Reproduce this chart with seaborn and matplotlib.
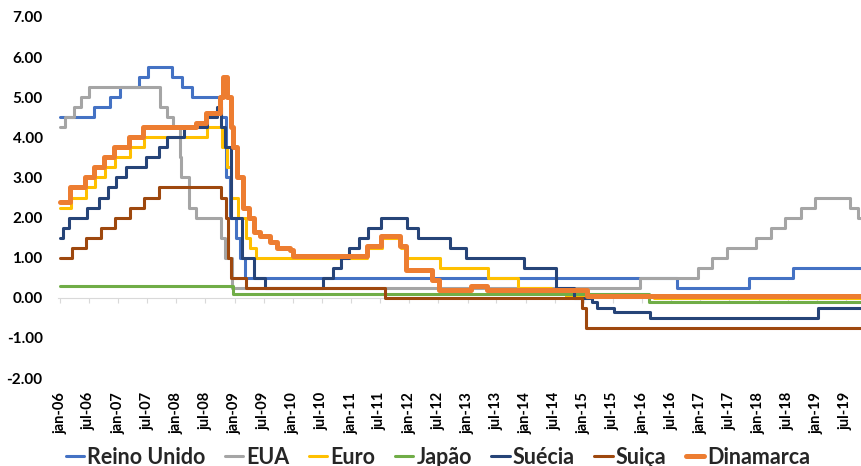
import matplotlib
matplotlib.use("Agg")
import matplotlib.pyplot as plt
import matplotlib.dates as mdates
from matplotlib.lines import Line2D
from matplotlib.ticker import FormatStrFormatter
import pandas as pd
import seaborn as sns

# ---------------- data (policy-rate change points, % a.a.) ----------------
END_DATE = "2019-10-20"

uk_dates = ["2006-01-01", "2006-08-03", "2006-11-09", "2007-01-11", "2007-05-10", "2007-07-05",
            "2007-12-06", "2008-02-07", "2008-04-10", "2008-10-08", "2008-11-06", "2008-12-04",
            "2009-01-08", "2009-02-05", "2009-03-05", "2016-08-04", "2017-11-02", "2018-08-02"]
uk_rates = [4.5, 4.75, 5.0, 5.25, 5.5, 5.75, 5.5, 5.25, 5.0, 4.5, 3.0, 2.0, 1.5, 1.0, 0.5, 0.25, 0.5, 0.75]

us_dates = ["2006-01-01", "2006-01-31", "2006-03-28", "2006-05-10", "2006-06-29", "2007-09-18",
            "2007-10-31", "2007-12-11", "2008-01-22", "2008-01-30", "2008-03-18", "2008-04-30",
            "2008-10-08", "2008-10-29", "2008-12-16", "2015-12-16", "2016-12-14", "2017-03-15",
            "2017-06-14", "2017-12-13", "2018-03-21", "2018-06-13", "2018-09-26", "2018-12-19",
            "2019-07-31", "2019-09-18"]
us_rates = [4.25, 4.5, 4.75, 5.0, 5.25, 4.75, 4.5, 4.25, 3.5, 3.0, 2.25, 2.0, 1.5, 1.0, 0.25,
            0.5, 0.75, 1.0, 1.25, 1.5, 1.75, 2.0, 2.25, 2.5, 2.25, 2.0]

eu_dates = ["2006-01-01", "2006-03-08", "2006-06-15", "2006-08-09", "2006-10-11", "2006-12-13",
            "2007-03-14", "2007-06-13", "2008-07-09", "2008-10-15", "2008-11-12", "2008-12-10",
            "2009-01-21", "2009-03-11", "2009-04-08", "2009-05-13", "2011-04-13", "2011-07-13",
            "2011-11-09", "2011-12-14", "2012-07-11", "2013-05-08", "2013-11-13", "2014-06-11",
            "2014-09-10", "2016-03-16"]
eu_rates = [2.25, 2.5, 2.75, 3.0, 3.25, 3.5, 3.75, 4.0, 4.25, 3.75, 3.25, 2.5, 2.0, 1.5, 1.25,
            1.0, 1.25, 1.5, 1.25, 1.0, 0.75, 0.5, 0.25, 0.15, 0.05, 0.0]

jp_dates = ["2006-01-01", "2008-12-19", "2016-02-16"]
jp_rates = [0.3, 0.1, -0.1]

se_dates = ["2006-01-01", "2006-01-20", "2006-02-23", "2006-06-21", "2006-09-05", "2006-10-31",
            "2006-12-20", "2007-02-21", "2007-06-27", "2007-09-12", "2007-10-31", "2008-02-20",
            "2008-07-09", "2008-09-10", "2008-10-08", "2008-10-29", "2008-12-10", "2009-02-18",
            "2009-04-29", "2009-07-08", "2010-07-07", "2010-09-08", "2010-10-27", "2010-12-20",
            "2011-02-22", "2011-04-20", "2011-07-06", "2011-12-20", "2012-02-22", "2012-09-12",
            "2012-12-19", "2013-12-18", "2014-07-09", "2014-10-29", "2015-02-18", "2015-03-25",
            "2015-07-08", "2016-02-17", "2019-01-09"]
se_rates = [1.5, 1.75, 2.0, 2.25, 2.5, 2.75, 3.0, 3.25, 3.5, 3.75, 4.0, 4.25, 4.5, 4.75, 4.25,
            3.75, 2.0, 1.0, 0.5, 0.25, 0.5, 0.75, 1.0, 1.25, 1.5, 1.75, 2.0, 1.75, 1.5, 1.25,
            1.0, 0.75, 0.25, 0.0, -0.1, -0.25, -0.35, -0.5, -0.25]

ch_dates = ["2006-01-01", "2006-03-16", "2006-06-15", "2006-09-14", "2006-12-14", "2007-03-15",
            "2007-06-14", "2007-09-13", "2008-10-08", "2008-11-06", "2008-11-20", "2008-12-11",
            "2009-03-12", "2011-08-03", "2014-12-18", "2015-01-15"]
ch_rates = [1.0, 1.25, 1.5, 1.75, 2.0, 2.25, 2.5, 2.75, 2.5, 2.0, 1.0, 0.5, 0.25, 0.0, -0.25, -0.75]

dk_dates = ["2006-01-01", "2006-03-03", "2006-06-09", "2006-08-04", "2006-10-06", "2006-12-08",
            "2007-03-09", "2007-06-08", "2008-05-05", "2008-07-04", "2008-10-01", "2008-10-22",
            "2008-11-14", "2008-12-09", "2008-12-21", "2009-01-15", "2009-02-22", "2009-04-01",
            "2009-05-02", "2009-06-09", "2009-08-10", "2009-09-23", "2009-12-14", "2010-01-02",
            "2011-04-08", "2011-07-08", "2011-11-04", "2011-12-09", "2012-05-25", "2012-07-06",
            "2013-01-25", "2013-05-03", "2015-01-20"]
dk_rates = [2.4, 2.75, 3.0, 3.25, 3.5, 3.75, 4.0, 4.25, 4.35, 4.6, 5.0, 5.5, 5.0, 4.25, 3.75,
            3.0, 2.25, 2.0, 1.65, 1.55, 1.4, 1.25, 1.2, 1.05, 1.3, 1.55, 1.3, 0.7, 0.45, 0.2,
            0.3, 0.2, 0.05]

series_names = ["Reino Unido", "EUA", "Euro", "Japão", "Suécia", "Suiça", "Dinamarca"]
series_dates = [uk_dates, us_dates, eu_dates, jp_dates, se_dates, ch_dates, dk_dates]
series_rates = [uk_rates, us_rates, eu_rates, jp_rates, se_rates, ch_rates, dk_rates]

y_ticks = [-2, -1, 0, 1, 2, 3, 4, 5, 6, 7]
x_tick_labels = ["jan-06", "jul-06", "jan-07", "jul-07", "jan-08", "jul-08", "jan-09", "jul-09",
                 "jan-10", "jul-10", "jan-11", "jul-11", "jan-12", "jul-12", "jan-13", "jul-13",
                 "jan-14", "jul-14", "jan-15", "jul-15", "jan-16", "jul-16", "jan-17", "jul-17",
                 "jan-18", "jul-18", "jan-19", "jul-19"]

# ---------------- style ----------------
colors = {"Reino Unido": "#4472C4", "EUA": "#A5A5A5", "Euro": "#FFC000", "Japão": "#70AD47",
          "Suécia": "#264478", "Suiça": "#9E480E", "Dinamarca": "#ED7D31"}
widths = {n: 2.2 for n in series_names}
widths["Dinamarca"] = 3.6

sns.set_theme(style="white")
plt.rcParams["font.family"] = ["Lato", "DejaVu Sans"]
plt.rcParams["font.weight"] = "bold"

frames = []
for name, d, r in zip(series_names, series_dates, series_rates):
    frames.append(pd.DataFrame({"data": pd.to_datetime(d + [END_DATE]),
                                "taxa": r + [r[-1]],
                                "pais": name}))
df = pd.concat(frames, ignore_index=True)

W, H = 861, 466
fig = plt.figure(figsize=(W / 100, H / 100), dpi=100)
ax = fig.add_axes([58 / W, 88 / H, (W - 58) / W, 361 / H])

for name in series_names:
    sub = df[df["pais"] == name]
    sns.lineplot(data=sub, x="data", y="taxa", color=colors[name], linewidth=widths[name],
                 drawstyle="steps-post", estimator=None, ax=ax, legend=False)

t0 = pd.Timestamp("2006-01-01")
ax.set_xlim(mdates.date2num(t0 - pd.Timedelta(days=13)),
            mdates.date2num(t0 + pd.Timedelta(days=5025)))
ax.set_ylim(-2, 7)
ax.set_xlabel("")
ax.set_ylabel("")

tick_dates = pd.date_range("2006-01-01", "2019-07-01", freq="6MS")
tick_nums = mdates.date2num(tick_dates)
ax.set_xticks(tick_nums)
ax.set_xticklabels(x_tick_labels, rotation=90, fontsize=10.5, fontweight="bold")
ax.set_yticks(y_ticks)
ax.yaxis.set_major_formatter(FormatStrFormatter("%.2f"))
for lab in ax.get_yticklabels():
    lab.set_fontweight("bold")
    lab.set_fontsize(11)
ax.tick_params(axis="x", length=0, pad=10, colors="black")
ax.tick_params(axis="y", length=0, pad=11, colors="black")
for s in ax.spines.values():
    s.set_visible(False)
ax.grid(False)

# horizontal category axis line at zero with tick marks
sec = ax.secondary_xaxis(2 / 9)
sec.set_xticks(tick_nums)
sec.set_xticklabels([])
sec.tick_params(axis="x", bottom=True, direction="out", length=3.6, width=0.8, color="#D9D9D9")
sec.spines["bottom"].set_color("#D9D9D9")
sec.spines["bottom"].set_linewidth(0.8)

handles = [Line2D([0], [0], color=colors[n], lw=widths[n]) for n in series_names]
fig.legend(handles, series_names, loc="center", bbox_to_anchor=(438 / W, 9 / H), ncol=7,
           frameon=False, handlelength=0.85, handletextpad=0.15, columnspacing=0.9,
           prop={"size": 15.5, "weight": "bold"}, borderaxespad=0, borderpad=0)

fig.savefig("out.png", dpi=100)
